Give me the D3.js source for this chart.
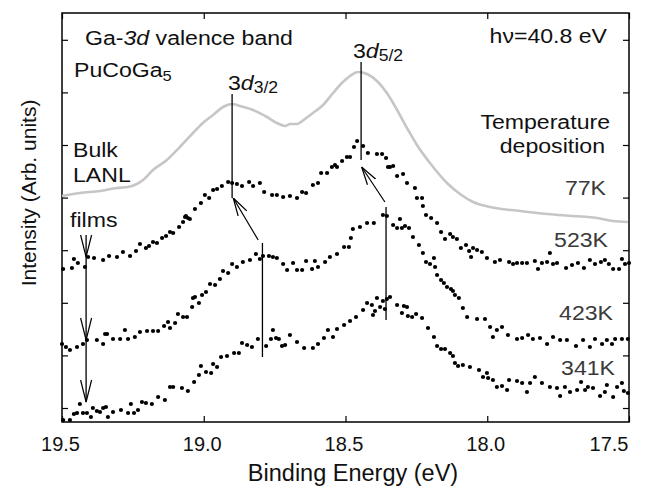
<!DOCTYPE html>
<html><head><meta charset="utf-8">
<script src="https://cdn.jsdelivr.net/npm/d3@7"></script>
<style>body{margin:0;background:#fff}svg{display:block}text{font-family:"Liberation Sans",Arial,sans-serif}</style>
</head><body>
<svg id="c" width="649" height="489"></svg>
<script>
// Binding energy (eV), intensity (arb. units)
const bulk77K = [[19.500,212],[19.482,213],[19.437,215],[19.366,217],[19.306,220],[19.267,221],[19.214,228],[19.179,238],[19.130,248],[19.084,261],[19.038,275],[19.003,285],[18.967,293],[18.932,301],[18.900,304],[18.872,302],[18.826,298],[18.777,291],[18.742,285],[18.713,282],[18.696,284],[18.671,284],[18.643,289],[18.615,295],[18.579,303],[18.544,315],[18.509,326],[18.484,332],[18.456,336],[18.424,334],[18.389,327],[18.354,315],[18.318,298],[18.283,280],[18.248,263],[18.202,245],[18.142,225],[18.096,214],[18.050,206],[17.990,201],[17.884,197],[17.789,194],[17.698,192],[17.613,190],[17.556,187],[17.504,186]];

const film523K = [[19.496,139],[19.465,140],[19.458,149],[19.444,145],[19.419,141],[19.408,151],[19.387,150],[19.355,148],[19.334,152],[19.306,151],[19.285,156],[19.260,152],[19.239,157],[19.225,164],[19.204,160],[19.193,162],[19.179,166],[19.165,165],[19.147,170],[19.133,172],[19.119,176],[19.108,175],[19.087,181],[19.073,186],[19.066,191],[19.063,192],[19.056,190],[19.049,189],[19.031,199],[19.010,205],[18.996,213],[18.981,210],[18.967,218],[18.953,219],[18.936,222],[18.914,226],[18.900,225],[18.883,224],[18.865,222],[18.840,226],[18.826,222],[18.802,225],[18.787,216],[18.759,213],[18.742,213],[18.720,211],[18.696,212],[18.671,210],[18.653,216],[18.639,215],[18.615,223],[18.597,225],[18.586,235],[18.565,235],[18.548,241],[18.537,243],[18.530,241],[18.512,247],[18.495,251],[18.484,251],[18.470,261],[18.459,267],[18.438,262],[18.421,255],[18.389,254],[18.371,254],[18.357,250],[18.350,241],[18.343,241],[18.332,242],[18.318,232],[18.297,234],[18.283,225],[18.255,220],[18.248,210],[18.230,210],[18.227,202],[18.216,193],[18.198,190],[18.177,185],[18.163,176],[18.149,169],[18.131,174],[18.121,171],[18.107,169],[18.093,160],[18.075,163],[18.064,157],[18.057,151],[18.050,160],[18.036,158],[18.019,156],[18.001,150],[17.973,146],[17.955,148],[17.923,146],[17.909,144],[17.895,145],[17.877,145],[17.860,145],[17.832,147],[17.821,139],[17.807,145],[17.789,146],[17.779,155],[17.768,144],[17.754,145],[17.722,140],[17.701,143],[17.680,145],[17.659,140],[17.638,148],[17.620,144],[17.599,146],[17.585,148],[17.571,144],[17.556,139],[17.535,139],[17.525,149],[17.514,144],[17.500,145]];

const film423K = [[19.500,64],[19.486,61],[19.472,58],[19.447,61],[19.426,64],[19.412,68],[19.377,68],[19.355,64],[19.348,74],[19.341,74],[19.320,69],[19.295,69],[19.278,78],[19.267,69],[19.243,71],[19.225,76],[19.200,77],[19.179,77],[19.161,77],[19.140,82],[19.126,86],[19.119,80],[19.101,85],[19.091,94],[19.073,91],[19.059,91],[19.041,101],[19.038,110],[19.031,111],[19.017,105],[19.006,113],[18.992,116],[18.978,124],[18.960,123],[18.943,129],[18.932,137],[18.914,135],[18.900,144],[18.883,141],[18.862,146],[18.837,148],[18.816,154],[18.802,149],[18.791,152],[18.770,152],[18.756,151],[18.742,150],[18.720,144],[18.706,138],[18.685,145],[18.671,138],[18.653,138],[18.639,147],[18.618,139],[18.608,147],[18.597,141],[18.572,146],[18.555,151],[18.530,154],[18.505,161],[18.488,161],[18.481,170],[18.474,179],[18.449,181],[18.424,185],[18.400,185],[18.368,193],[18.354,192],[18.332,183],[18.318,180],[18.308,189],[18.301,180],[18.290,182],[18.276,180],[18.262,171],[18.241,163],[18.227,155],[18.216,146],[18.202,144],[18.188,150],[18.184,141],[18.177,133],[18.163,128],[18.153,125],[18.142,121],[18.128,119],[18.121,117],[18.114,113],[18.100,110],[18.086,100],[18.071,91],[18.036,89],[18.008,89],[17.990,81],[17.980,71],[17.966,78],[17.948,81],[17.927,73],[17.895,69],[17.877,70],[17.856,73],[17.839,69],[17.814,70],[17.789,64],[17.768,71],[17.743,68],[17.719,68],[17.687,62],[17.662,68],[17.638,61],[17.620,69],[17.595,64],[17.578,68],[17.560,64],[17.549,69],[17.525,69],[17.504,69]];

const film341K = [[19.496,-12],[19.472,-12],[19.458,-6],[19.447,-5],[19.437,4],[19.426,-5],[19.412,-5],[19.398,-9],[19.391,0],[19.377,-3],[19.366,-4],[19.355,0],[19.345,1],[19.338,-9],[19.320,-4],[19.292,-2],[19.267,-5],[19.257,4],[19.246,-5],[19.232,-2],[19.218,6],[19.204,5],[19.183,4],[19.161,11],[19.137,8],[19.119,21],[19.108,21],[19.077,20],[19.056,17],[19.034,26],[19.017,33],[19.010,42],[18.992,36],[18.974,35],[18.967,44],[18.953,41],[18.939,51],[18.918,52],[18.893,55],[18.876,55],[18.865,65],[18.847,63],[18.830,61],[18.809,69],[18.780,62],[18.763,69],[18.756,78],[18.745,70],[18.735,69],[18.724,62],[18.713,63],[18.696,73],[18.671,66],[18.646,60],[18.615,60],[18.597,64],[18.576,70],[18.562,78],[18.544,71],[18.530,79],[18.505,83],[18.484,87],[18.463,91],[18.438,98],[18.424,105],[18.407,103],[18.403,93],[18.396,97],[18.389,110],[18.378,101],[18.368,107],[18.361,99],[18.354,109],[18.343,111],[18.318,103],[18.301,95],[18.294,102],[18.283,101],[18.280,92],[18.265,91],[18.251,94],[18.230,90],[18.209,80],[18.188,71],[18.177,62],[18.163,59],[18.149,59],[18.131,55],[18.121,52],[18.114,45],[18.103,42],[18.086,43],[18.061,41],[18.029,38],[18.015,31],[18.001,35],[17.997,30],[17.980,28],[17.966,21],[17.948,22],[17.930,18],[17.923,28],[17.895,27],[17.877,25],[17.860,16],[17.849,25],[17.832,31],[17.807,25],[17.779,21],[17.754,20],[17.743,12],[17.726,21],[17.708,16],[17.683,18],[17.669,26],[17.655,18],[17.645,21],[17.627,20],[17.602,12],[17.585,16],[17.578,23],[17.556,11],[17.542,21],[17.525,25],[17.518,17],[17.504,15]];

const xTicks = [19.5, 19.0, 18.5, 18.0, 17.5];
const xTickLabels = ["19.5", "19.0", "18.5", "18.0", "17.5"];
const yTicks = [0, 52.6, 105.2, 157.8, 210.4, 263, 315.6, 368.2];
const seriesLabels = ["77K", "523K", "423K", "341K"];

// peak marker lines: [energy, top, bottom]
const peakLines = [[18.900, 314, 210], [18.793, 165, 51], [18.445, 346, 248], [18.357, 201, 88]];
// shift arrows: [E from, I from, E to, I to]
const shiftArrows = [[18.808, 168, 18.896, 210], [18.361, 206, 18.443, 241]];
// films arrow: energy, top, head positions
const filmsArrowE = 19.415, filmsArrowTop = 173, filmsArrowHeads = [151, 68, 6];

const svg = d3.select("#c");
const L = 62, R = 629, T = 13, B = 422;
const x = d3.scaleLinear().domain([19.5, 17.5]).range([L, R]);
const y = d3.scaleLinear().domain([-14, 395]).range([B, T]);

svg.append("defs").append("marker")
  .attr("id", "ah").attr("markerUnits", "userSpaceOnUse")
  .attr("viewBox", "0 0 18 12").attr("refX", 18).attr("refY", 6)
  .attr("markerWidth", 18).attr("markerHeight", 12).attr("orient", "auto")
  .append("path").attr("d", "M0,1 L18,6 L0,11").attr("fill", "none")
  .attr("stroke", "#000").attr("stroke-width", 1.2);

// axes (inward ticks)
const ax = (g, fn) => { g.call(fn); g.select(".domain").remove(); g.selectAll("line").attr("stroke", "#000").attr("stroke-width", 1.2); };
const gB = svg.append("g").attr("transform", `translate(0,${B})`);
ax(gB, d3.axisBottom(x).tickValues(xTicks).tickFormat((d, i) => xTickLabels[i]).tickSize(-6).tickPadding(15));
gB.selectAll("text").attr("font-size", 20).attr("fill", "#111").attr("font-family", '"Liberation Sans",Arial,sans-serif').attr("dx", -2);
gB.selectAll(".tick").filter((d, i) => i === xTicks.length - 1).select("text").attr("text-anchor", "end").attr("dx", -1);
ax(svg.append("g").attr("transform", `translate(0,${T})`), d3.axisTop(x).tickValues(xTicks).tickFormat("").tickSize(-6));
ax(svg.append("g").attr("transform", `translate(${L},0)`), d3.axisLeft(y).tickValues(yTicks).tickFormat("").tickSize(-6));
ax(svg.append("g").attr("transform", `translate(${R},0)`), d3.axisRight(y).tickValues(yTicks).tickFormat("").tickSize(-6));
svg.append("rect").attr("x", L).attr("y", T).attr("width", R - L).attr("height", B - T)
  .attr("fill", "none").attr("stroke", "#000").attr("stroke-width", 1.5);

// bulk curve
const lineGen = d3.line().x(d => x(d[0])).y(d => y(d[1])).curve(d3.curveMonotoneX);
svg.append("path").datum(bulk77K).attr("d", lineGen)
  .attr("fill", "none").attr("stroke", "#c6c6c6").attr("stroke-width", 2.6);

// film dots
[film523K, film423K, film341K].forEach(s => {
  svg.append("g").selectAll("circle").data(s).join("circle")
    .attr("cx", d => x(d[0])).attr("cy", d => y(d[1])).attr("r", 2.1).attr("fill", "#000");
});

// peak lines
svg.append("g").selectAll("line").data(peakLines).join("line")
  .attr("x1", d => x(d[0])).attr("x2", d => x(d[0]))
  .attr("y1", d => y(d[1])).attr("y2", d => y(d[2]))
  .attr("stroke", "#000").attr("stroke-width", 1.3);

// shift arrows
svg.append("g").selectAll("line").data(shiftArrows).join("line")
  .attr("x1", d => x(d[0])).attr("y1", d => y(d[1]))
  .attr("x2", d => x(d[2])).attr("y2", d => y(d[3]))
  .attr("stroke", "#000").attr("stroke-width", 1.2).attr("marker-end", "url(#ah)");

// films arrow
const fx = x(filmsArrowE);
svg.append("line").attr("x1", fx).attr("x2", fx).attr("y1", y(filmsArrowTop)).attr("y2", y(filmsArrowHeads[2]))
  .attr("stroke", "#000").attr("stroke-width", 1.3);
svg.append("g").selectAll("path").data(filmsArrowHeads).join("path")
  .attr("d", d => `M${fx - 5.5},${y(d) - 22} L${fx},${y(d)} L${fx + 5.5},${y(d) - 22}`)
  .attr("fill", "none").attr("stroke", "#000").attr("stroke-width", 1.2);

// text helper
function label(parts, px, py, anchor, color, size, sx) {
  const t = svg.append("text")
    .attr("transform", `translate(${px},${py}) scale(${sx},1)`)
    .attr("text-anchor", anchor).attr("font-size", size).attr("fill", color);
  parts.forEach(p => {
    const [s, o] = typeof p === "string" ? [p, {}] : p;
    const ts = t.append("tspan").text(s);
    if (o.italic) ts.attr("font-style", "italic");
    if (o.size) ts.attr("font-size", o.size);
    if (o.dy) ts.attr("dy", o.dy);
  });
  return t;
}
const INK = "#111", SX = 1.1, FS = 21;
label(["Ga-", ["3d", {italic: true}], " valence band"], 85, 45, "start", INK, FS, SX);
label(["PuCoGa", ["5", {size: 15, dy: 4}]], 74, 77, "start", INK, FS, SX);
label(["3", ["d", {italic: true}], ["3/2", {size: 16, dy: 3}]], 228, 90, "start", INK, FS, SX);
label(["3", ["d", {italic: true}], ["5/2", {size: 16, dy: 3}]], 353, 58, "start", INK, FS, SX);
label(["hν=40.8 eV"], 607, 43, "end", INK, FS, SX);
label(["Bulk"], 73, 157, "start", INK, FS, SX);
label(["LANL"], 73, 182, "start", INK, FS, SX);
label(["films"], 70, 227, "start", INK, FS, SX);
label(["Temperature"], 610, 129, "end", INK, FS, SX);
label(["deposition"], 605, 153, "end", INK, FS, SX);
const labPos = [[606, 195], [608, 247], [613, 320], [615, 375]];
seriesLabels.forEach((s, i) => label([s], labPos[i][0], labPos[i][1], "end", "#3a3a3a", FS, SX));

// axis titles
svg.append("text").attr("x", 353).attr("y", 481).attr("text-anchor", "middle")
  .attr("font-size", 23.5).attr("fill", INK).text("Binding Energy (eV)");
svg.append("text").attr("transform", "translate(36,193) rotate(-90)").attr("text-anchor", "middle")
  .attr("font-size", 21).attr("fill", INK).text("Intensity (Arb. units)");
</script>
</body></html>
